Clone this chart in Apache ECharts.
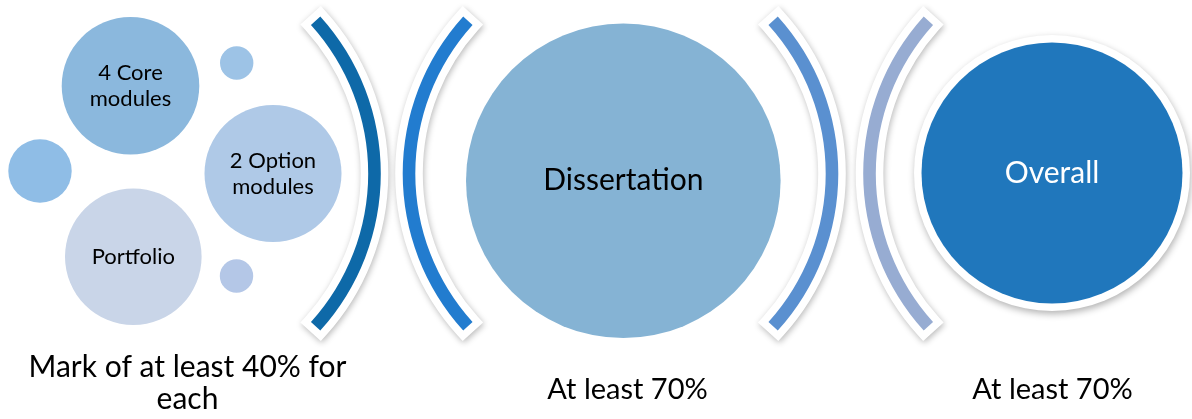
<!DOCTYPE html>
<html>
<head>
<meta charset="utf-8">
<script src="https://cdn.jsdelivr.net/npm/echarts@6/dist/echarts.min.js"></script>
<style>
html,body{margin:0;padding:0;background:#fff;}
#main{width:1192px;height:419px;}
</style>
</head>
<body>
<div id="main"></div>
<script>
// ---- data ----
const circleLabels = ['4 Core\nmodules', '2 Option\nmodules', 'Portfolio', '', '', '', 'Dissertation', 'Overall'];
const circleX = [130.5, 273, 133.3, 40, 236.7, 236.5, 623.3, 1052];
const circleY = [85.8, 173.5, 256.7, 171, 63, 276, 180.8, 173];
const circleR = [68.8, 68.5, 68.3, 31.7, 16.7, 16.7, 157.3, 130.5];
const circleColors = ['#8BB8DD', '#AFC9E7', '#C9D5E8', '#8FBDE6', '#9DC3E6', '#B4C7E7', '#85B3D4', '#2077BC'];
const circleTextColors = ['#000', '#000', '#000', '#000', '#000', '#000', '#000', '#fff'];
const circleFontSizes = [22, 22, 22, 22, 22, 22, 30, 30];
const circleRinged = [false, false, false, false, false, false, false, true];

const arcCenterX = [146.8, 636.7, 604.3, 1097.2];
const arcCenterY = [173.5, 173.5, 173.5, 173.5];
const arcRadius = [227.7, 227.7, 227.7, 227.7];
const arcFacing = ['right', 'left', 'right', 'left'];
const arcColors = ['#0E69A8', '#227CCF', '#5A90D0', '#97ACD2'];

const bottomLabels = ['Mark of at least 40% for\neach', 'At least 70%', 'At least 70%'];
const bottomX = [187.5, 627.5, 1052.5];
const bottomY = [383.5, 389.3, 389.3];
const bottomFontSizes = [30, 29, 29];

// ---- chart ----
const FONT = 'Lato, "Open Sans", sans-serif';
const HALF = Math.asin(152.8 / 227.7);
const chart = echarts.init(document.getElementById('main'), null, {renderer: 'canvas'});

const arcData = arcCenterX.map((x, i) => [x, arcCenterY[i], arcRadius[i], i]);
const circleData = circleX.map((x, i) => [x, circleY[i], circleR[i], i]);
const bottomData = bottomX.map((x, i) => [x, bottomY[i], i]);

chart.setOption({
  animation: false,
  grid: {left: 0, right: 0, top: 0, bottom: 0},
  xAxis: {type: 'value', min: 0, max: 1192, show: false},
  yAxis: {type: 'value', min: 0, max: 419, inverse: true, show: false},
  series: [
    {
      type: 'custom',
      coordinateSystem: 'cartesian2d',
      data: arcData,
      renderItem: function (params, api) {
        const i = api.value(3);
        const c = api.coord([api.value(0), api.value(1)]);
        const r = api.size([api.value(2), 0])[0];
        const right = arcFacing[i] === 'right';
        const s = right ? -HALF : Math.PI - HALF;
        const e = right ? HALF : Math.PI + HALF;
        const w = 6.3;
        return {
          type: 'group',
          children: [
            {
              type: 'sector',
              shape: {cx: c[0], cy: c[1], r0: r - w, r: r + w, startAngle: s, endAngle: e, clockwise: true},
              style: {fill: '#fff', stroke: '#fff', lineWidth: 15, lineJoin: 'miter',
                      shadowBlur: 6, shadowColor: 'rgba(0,0,0,0.28)', shadowOffsetY: 2, shadowOffsetX: 1}
            },
            {
              type: 'sector',
              shape: {cx: c[0], cy: c[1], r0: r - w, r: r + w, startAngle: s, endAngle: e, clockwise: true},
              style: {fill: arcColors[i]}
            }
          ]
        };
      }
    },
    {
      type: 'custom',
      coordinateSystem: 'cartesian2d',
      data: circleData,
      renderItem: function (params, api) {
        const i = api.value(3);
        const c = api.coord([api.value(0), api.value(1)]);
        const r = api.size([api.value(2), 0])[0];
        const children = [];
        if (circleRinged[i]) {
          children.push({
            type: 'circle',
            shape: {cx: c[0], cy: c[1], r: r + 7.5},
            style: {fill: '#fff', shadowBlur: 7, shadowColor: 'rgba(0,0,0,0.3)', shadowOffsetY: 3, shadowOffsetX: 1}
          });
        }
        children.push({
          type: 'circle',
          shape: {cx: c[0], cy: c[1], r: r},
          style: {fill: circleColors[i]}
        });
        if (circleLabels[i]) {
          const fs = circleFontSizes[i];
          children.push({
            type: 'text',
            style: {
              text: circleLabels[i], x: c[0], y: c[1],
              fill: circleTextColors[i], fontSize: fs, fontFamily: FONT,
              align: 'center', verticalAlign: 'middle', lineHeight: Math.round(fs * 1.18)
            }
          });
        }
        return {type: 'group', children: children};
      }
    },
    {
      type: 'custom',
      coordinateSystem: 'cartesian2d',
      data: bottomData,
      renderItem: function (params, api) {
        const i = api.value(2);
        const c = api.coord([api.value(0), api.value(1)]);
        return {
          type: 'text',
          style: {
            text: bottomLabels[i], x: c[0], y: c[1],
            fill: '#000', fontSize: bottomFontSizes[i], fontFamily: FONT,
            align: 'center', verticalAlign: 'middle', lineHeight: 32
          }
        };
      }
    }
  ]
});
</script>
</body>
</html>
